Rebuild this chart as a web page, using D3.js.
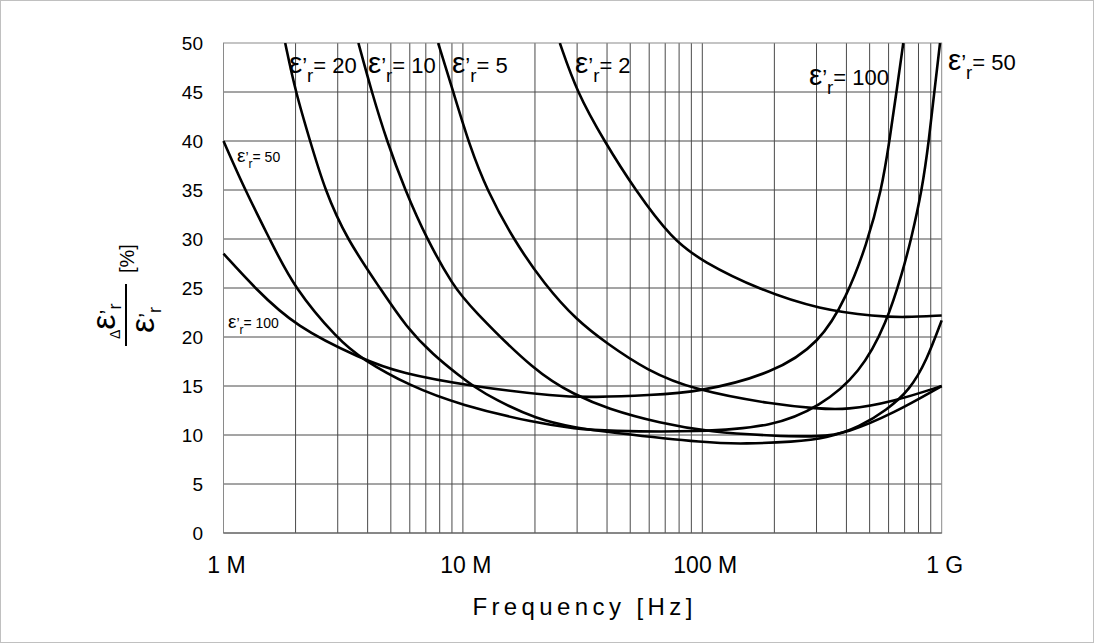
<!DOCTYPE html>
<html>
<head>
<meta charset="utf-8">
<script src="https://cdn.jsdelivr.net/npm/d3@7"></script>
<style>
body { margin: 0; background: #fff; }
text { font-family: "Liberation Sans", Arial, sans-serif; fill: #000; }
</style>
</head>
<body>
<svg id="chart" width="1094" height="643"></svg>
<script>
// frequency [MHz], error [%]
var er2 = [[25.4, 50], [29.9, 45], [38.9, 40], [52.4, 35], [74.7, 30], [100, 27.7], [174, 24.8],
    [310, 22.8], [535, 22.1], [700, 22.0], [1000, 22.2]];
var er5 = [[7.88, 50], [9.12, 45], [10.7, 39.4], [12.6, 35], [16.2, 30], [22, 25.3], [29.9, 21.7],
    [39.9, 19.35], [58.6, 16.6], [91.7, 14.6], [200, 13.1], [300, 12.7], [401, 12.55], [628, 13.4], [1000, 15]];
var er10 = [[3.66, 50], [4.16, 45], [4.81, 40], [5.73, 35], [7.06, 30], [9.12, 25.2], [10.7, 23.1],
    [20.3, 16.3], [29.4, 14.1], [39.9, 12.7], [66.6, 11.2], [108, 10.3], [200, 9.9], [310, 9.8],
    [401, 10.2], [628, 12.2], [1000, 15]];
var er20 = [[1.81, 50], [2.0, 45], [2.3, 40], [2.65, 35], [3.27, 30], [4.5, 25], [5.8, 21.0], [7.5, 18.2],
    [9.77, 15.95], [11.2, 14.9], [13.4, 13.7], [20.3, 11.6], [29.4, 10.75], [39.9, 10.3], [108, 9.15],
    [150, 9.1], [240, 9.3], [330, 9.66], [456, 10.85], [589, 12.55], [736, 14.6], [865, 17.6], [1000, 21.7]];
var er50 = [[1, 40], [1.23, 35], [1.56, 30], [1.97, 25], [3.02, 19.7], [3.78, 17.76], [6, 15.0],
    [9.77, 13.06], [20.3, 11.2], [29.4, 10.65], [39.9, 10.4], [98, 10.3], [198, 10.85], [310, 12.9],
    [456, 16.3], [589, 21.4], [689, 26.8], [744, 29.9], [828, 35], [885, 40.1], [933, 45.2], [984, 50]];
var er100 = [[1, 28.5], [1.35, 25], [2, 21.05], [3.78, 17.76], [5.5, 16.3], [10.7, 15.0], [25, 13.9],
    [35, 13.85], [60, 14.05], [98, 14.4], [198, 16.3], [310, 19.4], [401, 24.1], [486, 29.4],
    [561, 35], [606, 40.1], [649, 45.2], [691, 50]];

var curves = [er2, er5, er10, er20, er50, er100];

// curve labels: name, anchor [MHz], anchor [%], big or small
var labelNames = ['20', '10', '5', '2', '100', '50', '50', '100'];
var labelFreq = [1.877, 4.01, 9.01, 29.4, 279, 1062, 1.139, 1.044];
var labelVal = [46.94, 46.94, 46.94, 46.94, 45.71, 47.24, 37.86, 20.92];
var labelBig = [true, true, true, true, true, true, false, false];

var yTicks = d3.range(0, 51, 5);
var xTickValues = [1, 10, 100, 1000];
var xTickLabels = ['1 M', '10 M', '100 M', '1 G'];

var svg = d3.select('#chart');
var width = 1094, height = 643;

var x = d3.scaleLog().domain([1, 1000]).range([223.5, 941.7]);
var y = d3.scaleLinear().domain([0, 50]).range([533, 43]);

// outer frame
svg.append('rect')
    .attr('x', 0.5).attr('y', 0.5)
    .attr('width', width - 1).attr('height', height - 1)
    .attr('fill', 'none').attr('stroke', '#c0c0c0');

// grid
var vgrid = [];
[1, 10, 100].forEach(function (d) {
    for (var k = 2; k <= 9; k++) vgrid.push(d * k);
});
vgrid.push(10, 100);

svg.selectAll('.hgrid').data(yTicks.slice(1, -1))
    .enter().append('line').attr('class', 'hgrid')
    .attr('x1', x(1)).attr('x2', x(1000))
    .attr('y1', function (d) { return y(d); })
    .attr('y2', function (d) { return y(d); })
    .attr('stroke', '#4a4a4a').attr('stroke-width', 1);

svg.selectAll('.vgrid').data(vgrid)
    .enter().append('line').attr('class', 'vgrid')
    .attr('x1', function (d) { return x(d); })
    .attr('x2', function (d) { return x(d); })
    .attr('y1', y(0)).attr('y2', y(50))
    .attr('stroke', '#4a4a4a').attr('stroke-width', 1);

// plot border
svg.append('rect')
    .attr('x', x(1)).attr('y', y(50))
    .attr('width', x(1000) - x(1)).attr('height', y(0) - y(50))
    .attr('fill', 'none').attr('stroke', '#8a8a8a');
svg.append('line')
    .attr('x1', x(1)).attr('x2', x(1000))
    .attr('y1', y(0)).attr('y2', y(0))
    .attr('stroke', '#4a4a4a');

// y tick labels
svg.selectAll('.ylab').data(yTicks)
    .enter().append('text').attr('class', 'ylab')
    .attr('x', 203)
    .attr('y', function (d) { return y(d); })
    .attr('dy', '0.35em')
    .style('text-anchor', 'end')
    .style('font-size', '19px')
    .text(function (d) { return d; });

// x tick labels
svg.selectAll('.xlab').data(xTickValues)
    .enter().append('text').attr('class', 'xlab')
    .attr('x', function (d) { return x(d) + 3; })
    .attr('y', 573)
    .style('text-anchor', 'middle')
    .style('font-size', '23px')
    .text(function (d, i) { return xTickLabels[i]; });

svg.append('text')
    .attr('x', (x(1) + x(1000)) / 2 + 2)
    .attr('y', 615)
    .style('text-anchor', 'middle')
    .style('font-size', '24px')
    .style('letter-spacing', '4.4px')
    .text('Frequency [Hz]');

// curves
svg.append('clipPath').attr('id', 'plotclip')
    .append('rect')
    .attr('x', x(1) - 2).attr('y', y(50))
    .attr('width', x(1000) - x(1) + 4).attr('height', y(0) - y(50));

var line = d3.line()
    .x(function (d) { return x(d[0]); })
    .y(function (d) { return y(d[1]); })
    .curve(d3.curveBasis);

svg.selectAll('.curve').data(curves)
    .enter().append('path').attr('class', 'curve')
    .attr('clip-path', 'url(#plotclip)')
    .attr('d', line)
    .attr('fill', 'none')
    .attr('stroke', '#000')
    .attr('stroke-width', 2.6);

// curve labels
function epsLabel(px, py, fs, num) {
    var sub = fs * 0.42;
    var t = svg.append('text').attr('x', px).attr('y', py).style('font-size', fs + 'px');
    t.append('tspan').text('ε').style('font-size', (fs * 1.35) + 'px');
    t.append('tspan').text('’');
    t.append('tspan').text('r').style('font-size', (fs * 0.85) + 'px').attr('dy', sub);
    t.append('tspan').text('= ' + num).attr('dy', -sub);
}

labelNames.forEach(function (n, i) {
    epsLabel(x(labelFreq[i]), y(labelVal[i]), labelBig[i] ? 22 : 14, n);
});

// y axis title: fraction
var yl = svg.append('g').attr('transform', 'translate(126,315) rotate(-90)');
yl.append('line')
    .attr('x1', -31).attr('x2', 31).attr('y1', 0).attr('y2', 0)
    .attr('stroke', '#000').attr('stroke-width', 2);
var num = yl.append('text').attr('x', -24).attr('y', -6);
num.append('tspan').text('Δ').style('font-size', '14px');
num.append('tspan').text('ε').style('font-size', '34px').attr('dy', -5);
num.append('tspan').text('’').style('font-size', '22px');
num.append('tspan').text('r').style('font-size', '18px').attr('dy', 6);
var den = yl.append('text').attr('x', -18).attr('y', 28);
den.append('tspan').text('ε').style('font-size', '34px');
den.append('tspan').text('’').style('font-size', '22px');
den.append('tspan').text('r').style('font-size', '18px').attr('dy', 7);
yl.append('text').attr('x', 42).attr('y', 8).style('font-size', '20px').text('[%]');
</script>
</body>
</html>
